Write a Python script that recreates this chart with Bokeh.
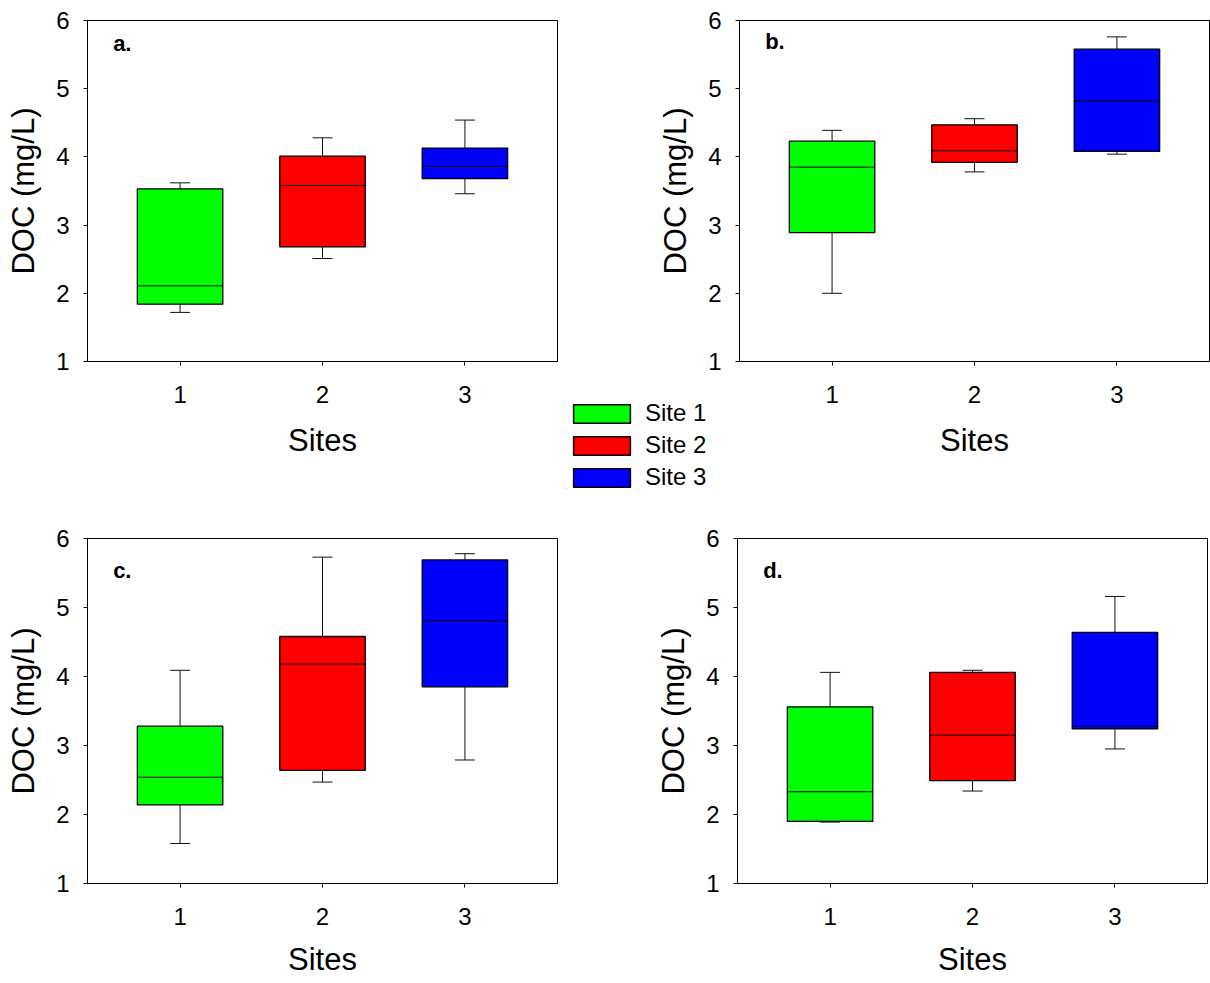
from bokeh.plotting import figure
from bokeh.layouts import row, column
from bokeh.models import FixedTicker, Range1d, Label, Legend, LegendItem, ColumnDataSource
from bokeh.embed import file_html
from bokeh.resources import INLINE

# ---------------- data ----------------
sites = [1, 2, 3]
site_names = ["Site 1", "Site 2", "Site 3"]
site_colors = ["#00FF00", "#FF0000", "#0000FF"]

a_min = [1.72, 2.51, 3.46]
a_q1 = [1.84, 2.68, 3.68]
a_med = [2.11, 3.58, 3.86]
a_q3 = [3.53, 4.01, 4.13]
a_max = [3.62, 4.28, 4.54]

b_min = [2.00, 3.78, 4.04]
b_q1 = [2.89, 3.92, 4.08]
b_med = [3.85, 4.09, 4.82]
b_q3 = [4.23, 4.47, 5.58]
b_max = [4.39, 4.56, 5.76]

c_min = [1.58, 2.47, 2.79]
c_q1 = [2.14, 2.64, 3.85]
c_med = [2.54, 4.18, 4.81]
c_q3 = [3.28, 4.58, 5.69]
c_max = [4.09, 5.73, 5.78]

d_min = [1.89, 2.34, 2.95]
d_q1 = [1.90, 2.49, 3.24]
d_med = [2.33, 3.15, 3.28]
d_q3 = [3.56, 4.06, 4.64]
d_max = [4.06, 4.09, 5.16]

y_ticks = [1, 2, 3, 4, 5, 6]
x_label = "Sites"
y_label = "DOC (mg/L)"

FONT = "Liberation Sans"
BOX_W = 0.6
CAP_W = 0.14


def make_panel(letter, mn, q1, med, q3, mx, width, height, bl, br, bt, bb, letter_y, xlab_standoff):
    p = figure(width=width, height=height, output_backend="svg", toolbar_location=None,
               x_range=Range1d(0.35, 3.65), y_range=Range1d(1, 6),
               min_border_left=bl, min_border_right=br,
               min_border_top=bt, min_border_bottom=bb)
    p.grid.visible = False
    p.outline_line_color = "black"
    p.outline_line_width = 1
    p.outline_line_alpha = 1
    p.background_fill_color = "white"
    p.border_fill_color = "white"

    src = ColumnDataSource(dict(
        x=sites, mn=mn, q1=q1, med=med, q3=q3, mx=mx, color=site_colors,
        bl=[s - BOX_W / 2 for s in sites], br=[s + BOX_W / 2 for s in sites],
        cl=[s - CAP_W / 2 for s in sites], cr=[s + CAP_W / 2 for s in sites],
    ))
    lc = "#111111"
    p.segment(x0="x", y0="q3", x1="x", y1="mx", source=src, line_color=lc, line_width=1)
    p.segment(x0="x", y0="q1", x1="x", y1="mn", source=src, line_color=lc, line_width=1)
    p.segment(x0="cl", y0="mx", x1="cr", y1="mx", source=src, line_color=lc, line_width=1)
    p.segment(x0="cl", y0="mn", x1="cr", y1="mn", source=src, line_color=lc, line_width=1)
    p.vbar(x="x", width=BOX_W, bottom="q1", top="q3", source=src,
           fill_color="color", line_color="black", line_width=1.3)
    p.segment(x0="bl", y0="med", x1="br", y1="med", source=src, line_color="black", line_width=1)

    p.xaxis.ticker = FixedTicker(ticks=sites)
    p.yaxis.ticker = FixedTicker(ticks=y_ticks)
    for ax in (p.xaxis[0], p.yaxis[0]):
        ax.major_tick_in = 0
        ax.major_tick_out = 4
        ax.minor_tick_line_color = None
        ax.axis_line_color = "black"
        ax.major_tick_line_color = "black"
        ax.major_label_text_font = FONT
        ax.major_label_text_font_size = "24px"
        ax.major_label_text_color = "black"
        ax.axis_label_text_font = FONT
        ax.axis_label_text_font_size = "31px"
        ax.axis_label_text_font_style = "normal"
        ax.axis_label_text_color = "black"
    p.xaxis.axis_label = x_label
    p.yaxis.axis_label = y_label
    p.xaxis.major_label_standoff = 20
    p.xaxis.axis_label_standoff = xlab_standoff
    p.yaxis.major_label_standoff = 14
    p.yaxis.axis_label_standoff = 12

    p.add_layout(Label(x=0.53, y=letter_y, text=letter, text_font=FONT,
                       text_font_style="bold", text_font_size="22px",
                       text_color="black", text_baseline="alphabetic"))
    return p


pa = make_panel("a.", a_min, a_q1, a_med, a_q3, a_max, 620, 500, 87, 63, 18, 139, 5.66, 17)
pb = make_panel("b.", b_min, b_q1, b_med, b_q3, b_max, 590, 500, 119, 1, 20, 135, 5.69, 17)
pc = make_panel("c.", c_min, c_q1, c_med, c_q3, c_max, 620, 483, 87, 63, 38, 100, 5.53, 14)
pd = make_panel("d.", d_min, d_q1, d_med, d_q3, d_max, 590, 483, 117, 3, 38, 100, 5.53, 14)

# ---------------- legend (own small figure placed between the panels) ----------------
pl = figure(width=160, height=90, output_backend="svg", toolbar_location=None,
            x_range=Range1d(10, 11), y_range=Range1d(10, 11),
            x_axis_type=None, y_axis_type=None,
            min_border_left=0, min_border_right=0, min_border_top=0, min_border_bottom=0,
            styles={"position": "absolute", "left": "566px", "top": "399px"})
pl.grid.visible = False
pl.outline_line_color = None
pl.background_fill_alpha = 0
pl.border_fill_alpha = 0
leg_src = ColumnDataSource(dict(x=sites, top=sites, color=site_colors))
rl = pl.vbar(x="x", top="top", width=0.5, source=leg_src,
             fill_color="color", line_color="black", line_width=1.5)
legend = Legend(
    items=[LegendItem(label=site_names[i], renderers=[rl], index=i) for i in range(3)],
    location="top_left", padding=0, margin=0, spacing=4,
    glyph_width=71, glyph_height=23, label_standoff=8, label_height=23,
    label_text_font=FONT, label_text_font_size="24px", label_text_color="black",
    border_line_color=None, background_fill_alpha=0,
)
pl.add_layout(legend)

layout = column(row(pa, pb), row(pc, pd), pl)
open("out.html", "w").write(file_html(layout, INLINE))
